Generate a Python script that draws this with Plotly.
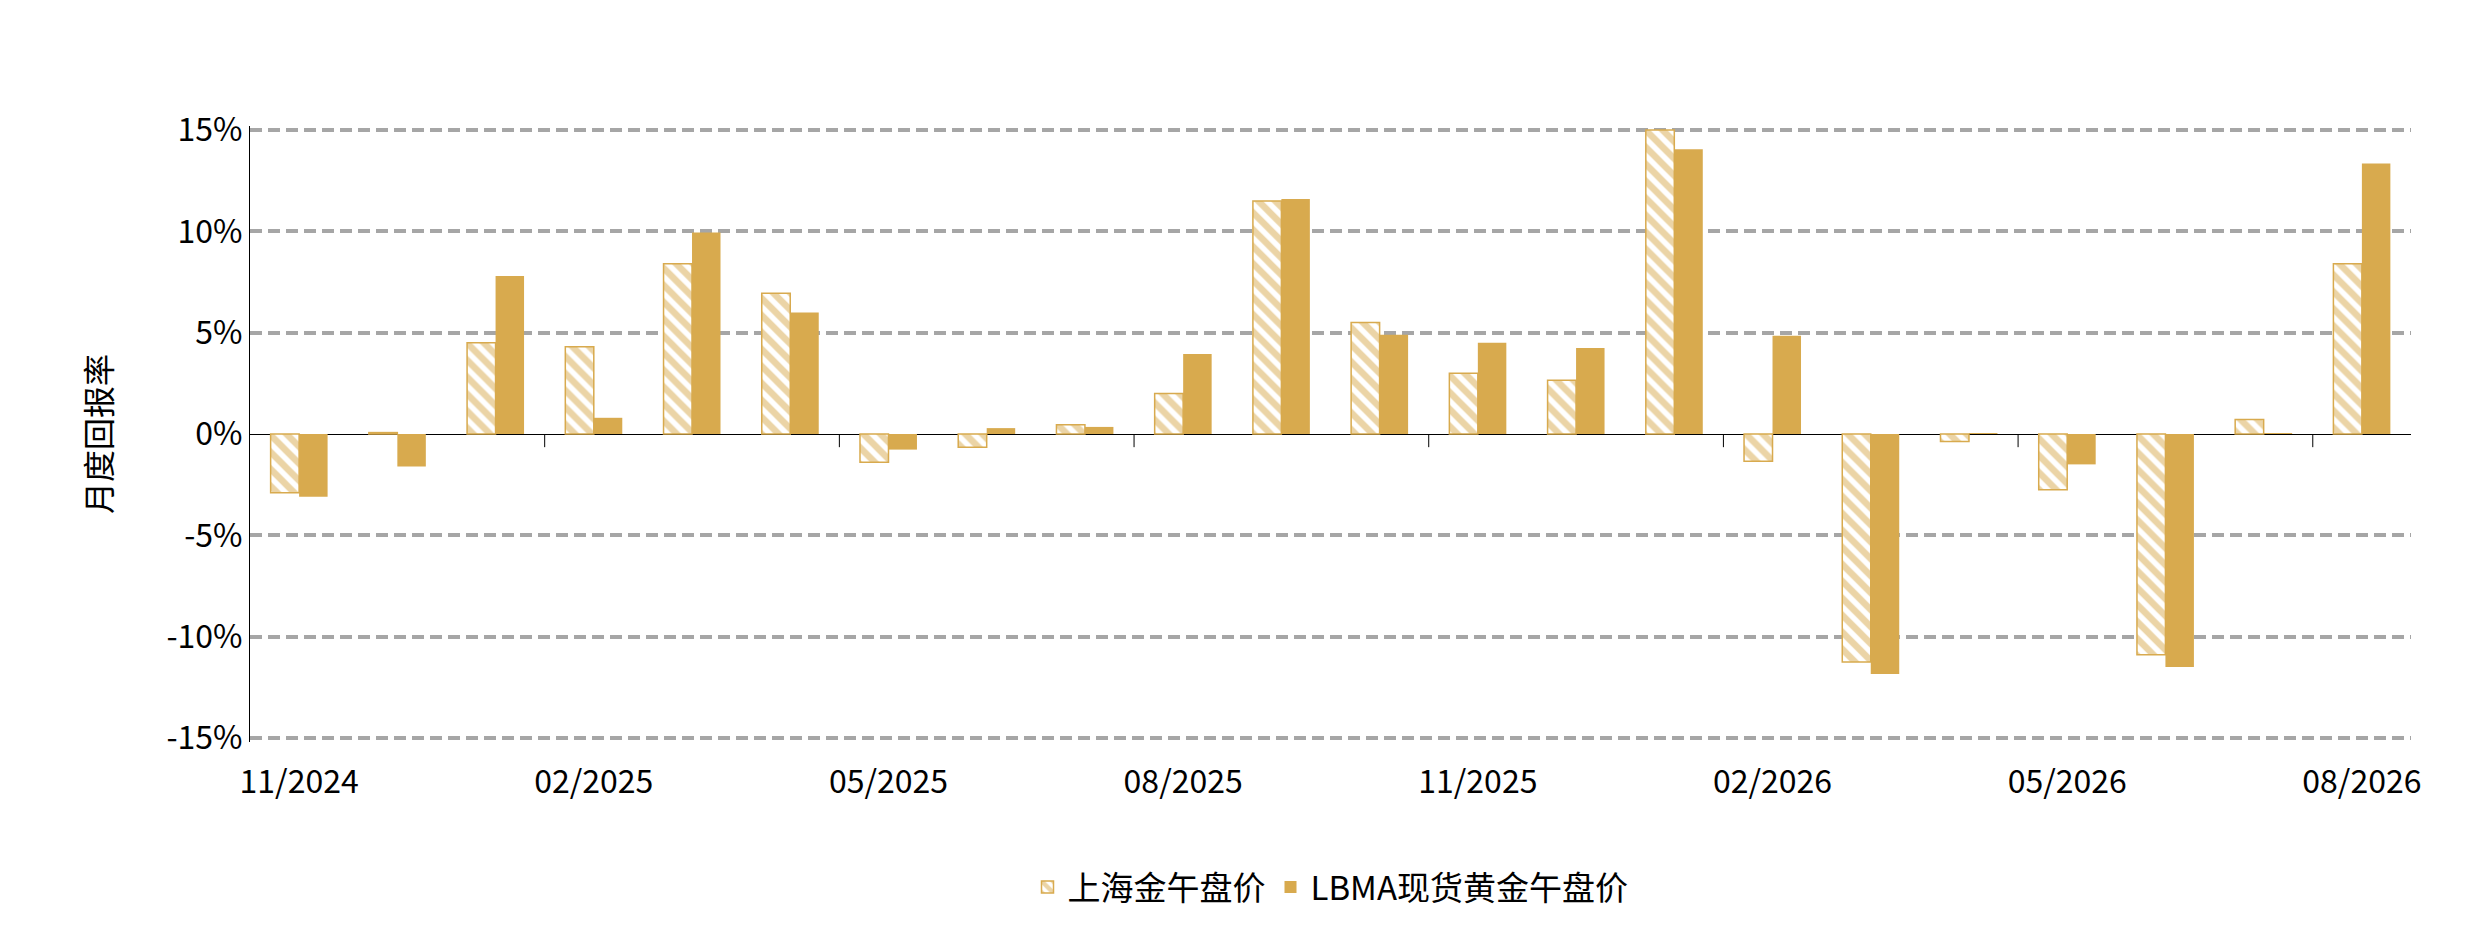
import plotly.graph_objects as go

months = ["11/2024", "12/2024", "01/2025", "02/2025", "03/2025", "04/2025", "05/2025",
          "06/2025", "07/2025", "08/2025", "09/2025", "10/2025", "11/2025", "12/2025",
          "01/2026", "02/2026", "03/2026", "04/2026", "05/2026", "06/2026", "07/2026",
          "08/2026"]
shanghai = [-2.9, 0.07, 4.5, 4.3, 8.4, 6.95, -1.4, -0.66, 0.46, 2.0, 11.5, 5.5,
            3.0, 2.65, 15.0, -1.35, -11.25, -0.37, -2.75, -10.9, 0.72, 8.4]
lbma = [-3.1, -1.6, 7.8, 0.8, 9.95, 6.0, -0.77, 0.29, 0.35, 3.95, 11.6, 4.9,
        4.5, 4.25, 14.05, 4.85, -11.85, 0.04, -1.5, -11.5, 0.04, 13.35]
tick_labels = ["11/2024", "02/2025", "05/2025", "08/2025", "11/2025", "02/2026", "05/2026", "08/2026"]
y_ticks = [-15, -10, -5, 0, 5, 10, 15]
y_text = [f"{v}%" for v in y_ticks]

gold = '#D8AA4E'
font = "Noto Sans CJK SC"

fig = go.Figure()

fig.add_trace(go.Bar(
    x=months, y=shanghai, name='上海金午盘价',
    marker=dict(color='white', line=dict(color=gold, width=1.5),
                pattern=dict(shape='\\', fgcolor=gold, bgcolor='white', size=12, solidity=0.55))
))
fig.add_trace(go.Bar(
    x=months, y=lbma, name='LBMA现货黄金午盘价',
    marker=dict(color=gold, line=dict(width=0))
))

# small tick marks on the zero line, every 3 months
for i in range(3, len(months), 3):
    fig.add_shape(type='line', xref='x', yref='y', x0=i - 0.5, x1=i - 0.5, y0=0, y1=-0.65,
                  line=dict(color='black', width=1))

fig.update_layout(
    width=2486, height=947,
    margin=dict(l=242, r=83, t=118, b=213),
    plot_bgcolor='white', paper_bgcolor='white',
    font=dict(family=font, size=32, color='black'),
    barmode='group', bargap=0.42, bargroupgap=0,
    showlegend=True,
    legend=dict(orientation='h', x=0.5, xanchor='center', y=-0.19, yanchor='top',
                font=dict(size=33), itemwidth=30, tracegroupgap=80),
    xaxis=dict(tickmode='array', tickvals=tick_labels, ticktext=tick_labels,
               showgrid=False, showline=False, ticks='outside', ticklen=12,
               tickcolor='rgba(0,0,0,0)', tickfont=dict(size=32)),
    yaxis=dict(range=[-15.2, 15.2], tickmode='array', tickvals=y_ticks, ticktext=y_text,
               showgrid=True, gridcolor='#A6A6A6', gridwidth=4, griddash='12px,6px',
               showline=True, linecolor='black', linewidth=1,
               zeroline=True, zerolinecolor='black', zerolinewidth=1,
               title=dict(text='月度回报率', font=dict(size=32), standoff=45),
               tickfont=dict(size=32)),
)

fig.write_html("out.html")
